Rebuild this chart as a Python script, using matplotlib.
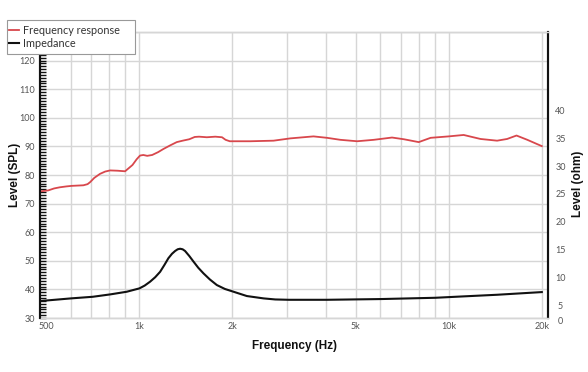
import matplotlib
matplotlib.use("Agg")
import matplotlib.pyplot as plt
from matplotlib.patches import Rectangle
from matplotlib.ticker import FixedLocator, NullFormatter, MultipleLocator

# ---- data ----
fr_freq = [480, 507, 530, 553, 580, 604, 659, 680, 693, 715, 746, 775, 804, 850, 899, 915,
           950, 980, 1005, 1030, 1060, 1100, 1150, 1196, 1260, 1321, 1380, 1450, 1510,
           1560, 1652, 1760, 1850, 1900, 1960, 2118, 2283, 2715, 3074, 3655, 4042, 4466,
           5057, 5724, 6560, 7163, 8000, 8742, 10000, 11180, 12670, 14340, 15450, 16570,
           17960, 20000]
fr_spl = [74.3, 74.6, 75.3, 75.7, 76.0, 76.2, 76.4, 76.8, 77.5, 79.0, 80.4, 81.2, 81.6,
          81.5, 81.3, 82.0, 83.5, 85.5, 86.8, 87.0, 86.7, 87.0, 88.0, 89.1, 90.4, 91.5,
          92.0, 92.5, 93.3, 93.4, 93.2, 93.4, 93.2, 92.3, 91.8, 91.8, 91.8, 92.0, 92.8,
          93.5, 93.0, 92.3, 91.8, 92.3, 93.1, 92.5, 91.5, 93.0, 93.5, 94.0, 92.6, 92.0,
          92.6, 93.8, 92.3, 90.1]

imp_freq = [477, 507, 601, 707, 806, 910, 1000, 1040, 1083, 1125, 1167, 1205, 1241, 1275,
            1305, 1330, 1354, 1380, 1405, 1450, 1496, 1550, 1611, 1690, 1780, 1890, 2016,
            2226, 2521, 2750, 3036, 4043, 6013, 9050, 11170, 14340, 20000]
imp_ohm = [5.83, 5.96, 6.31, 6.6, 7.03, 7.5, 8.1, 8.6, 9.3, 10.1, 11.07, 12.3, 13.5, 14.3,
           14.8, 15.1, 15.2, 15.1, 14.8, 13.9, 12.9, 11.8, 10.8, 9.7, 8.7, 8.0, 7.5, 6.73,
           6.31, 6.12, 6.06, 6.06, 6.19, 6.42, 6.67, 6.96, 7.44]

x_ticks = [500, 1000, 2000, 5000, 10000, 20000]
x_tick_labels = ["500", "1k", "2k", "5k", "10k", "20k"]
x_grid = [600, 700, 800, 900, 1000, 2000, 3000, 4000, 5000, 6000, 7000, 8000, 9000,
          10000, 20000]
spl_ticks = [30, 40, 50, 60, 70, 80, 90, 100, 110, 120]
ohm_ticks = [5, 10, 15, 20, 25, 30, 35, 40]

RED = "#d8474c"
GRID = "#d6d6d6"
TICKC = "#555555"

fig = plt.figure(figsize=(5.88, 3.72), dpi=100)
ax = fig.add_axes([40.5 / 588, 1 - 318 / 372, (547.7 - 40.5) / 588, (318 - 32) / 372])
ax2 = ax.twinx()

ax.set_xscale("log")
ax.set_xlim(479, 20900)
ax.set_ylim(30, 130)
ax2.set_ylim(2.8, 54)

# grid
for f in x_grid:
    ax.axvline(f, color=GRID, lw=1.0, zorder=0)
for v in spl_ticks + [130]:
    ax.axhline(v, color=GRID, lw=1.0, zorder=0)

ln1, = ax.plot(fr_freq, fr_spl, color=RED, lw=1.3, zorder=3, label="Frequency response",
               solid_joinstyle="round")
ln2, = ax2.plot(imp_freq, imp_ohm, color="#111111", lw=1.5, zorder=3, label="Impedance",
                solid_joinstyle="round")

# x axis
ax.xaxis.set_major_locator(FixedLocator(x_ticks))
ax.set_xticklabels(x_tick_labels)
ax.xaxis.set_minor_locator(FixedLocator([]))
ax.xaxis.set_minor_formatter(NullFormatter())
ax.tick_params(axis="x", which="both", length=0, pad=3, labelsize=6.5, labelcolor=TICKC)
for lbl in ax.get_xticklabels():
    lbl.set_fontfamily("Lato")

# left y axis
ax.yaxis.set_major_locator(FixedLocator(spl_ticks))
ax.yaxis.set_minor_locator(MultipleLocator(1))
ax.tick_params(axis="y", which="both", direction="in", length=4.5, width=1.0,
               color="#111111", pad=4, labelsize=6.5, labelcolor=TICKC)
for lbl in ax.get_yticklabels():
    lbl.set_fontfamily("Lato")

# right y axis
ax2.yaxis.set_major_locator(FixedLocator(ohm_ticks))
ax2.tick_params(axis="y", length=0, pad=9.2, labelsize=6.5, labelcolor=TICKC)
for lbl in ax2.get_yticklabels():
    lbl.set_fontfamily("Lato")
    lbl.set_horizontalalignment("center")
ax2.annotate("0", xy=(1, 0), xycoords="axes fraction", xytext=(9.2, -2.2),
             textcoords="offset points", ha="center", va="center", fontsize=6.5,
             color=TICKC, family="Lato")

for a in (ax, ax2):
    a.spines["top"].set_color(GRID)
    a.spines["bottom"].set_color(GRID)
    a.spines["left"].set_color("#111111")
    a.spines["right"].set_color("#111111")
    a.spines["left"].set_linewidth(1.5)
    a.spines["right"].set_linewidth(1.5)
    a.spines["top"].set_linewidth(1.0)
    a.spines["bottom"].set_linewidth(1.0)

ax.set_xlabel("Frequency (Hz)", family="Liberation Sans", fontweight="bold",
              fontsize=8.5, color="#111111", labelpad=6)
fig.text(15 / 588, 1 - 175 / 372, "Level (SPL)", rotation=90, ha="center", va="center",
         family="Liberation Sans", fontweight="bold", fontsize=8.5, color="#111111")
fig.text(578 / 588, 1 - 184 / 372, "Level (ohm)", rotation=90, ha="center", va="center",
         family="Liberation Sans", fontweight="bold", fontsize=8.5, color="#111111")

# legend box
W, H = 588, 372
box = Rectangle((7 / W, 1 - 54 / H), 128 / W, 34 / H, transform=fig.transFigure,
                facecolor="white", edgecolor="#999999", linewidth=0.8, zorder=10)
fig.add_artist(box)
leg = fig.legend(handles=[ln1, ln2], loc="upper left",
                 bbox_to_anchor=(8.5 / W, 1 - 24.5 / H), frameon=False,
                 handlelength=1.0, handletextpad=0.35, borderpad=0, labelspacing=0.22,
                 borderaxespad=0, prop={"family": "Lato", "size": 7.8})
leg.set_zorder(11)
for t in leg.get_texts():
    t.set_color("#333333")

fig.savefig("out.png", dpi=100)
